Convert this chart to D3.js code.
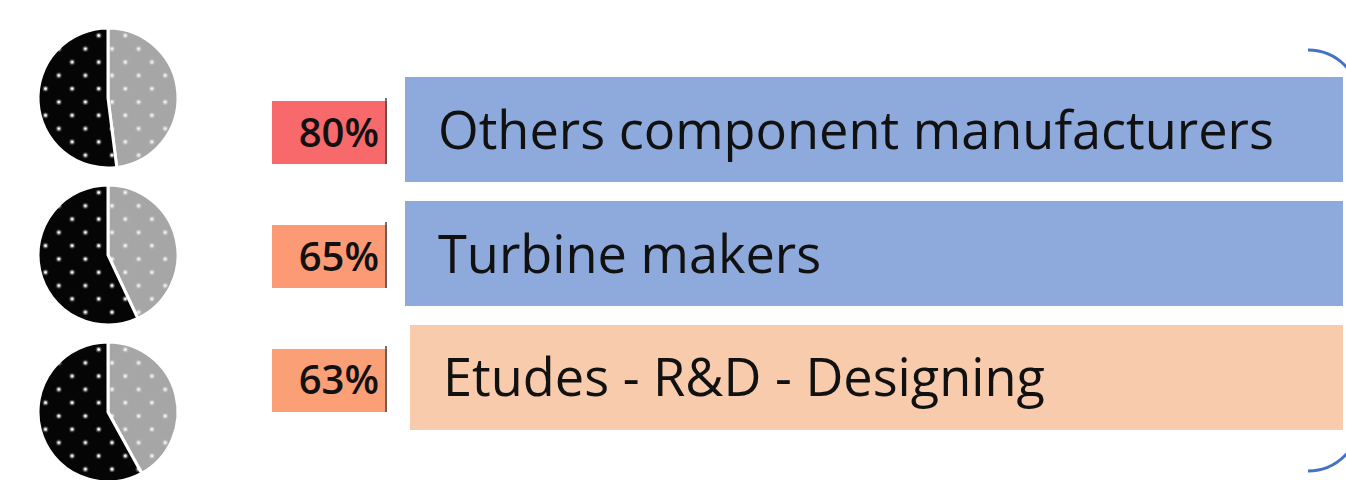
<!DOCTYPE html>
<html>
<head>
<meta charset="utf-8">
<script src="https://cdn.jsdelivr.net/npm/d3@7"></script>
<style>
  html, body { margin: 0; padding: 0; background: #fff; }
  svg { display: block; }
  text { font-family: "Open Sans", sans-serif; }
</style>
</head>
<body>
<div id="chart"></div>
<script>
// rows, top to bottom
const categories = ['Others component manufacturers', 'Turbine makers', 'Etudes - R&D - Designing'];
const shares = [80, 65, 63];
const pieBlack = [52, 57, 58];
const pieGray = [48, 43, 42];
const barColors = ['#8EA9DB', '#8EA9DB', '#F8CBAD'];

const width = 1346;
const height = 480;

const svg = d3.select('#chart')
    .append('svg')
    .attr('width', width)
    .attr('height', height)
    .attr('viewBox', `0 0 ${width} ${height}`);

const defs = svg.append('defs');

// dotted fill like the office pattern fills
function dotPattern(id, bg, dot) {
    const p = defs.append('pattern')
        .attr('id', id)
        .attr('patternUnits', 'userSpaceOnUse')
        .attr('width', 26.6)
        .attr('height', 26.6);
    p.append('rect').attr('width', 26.6).attr('height', 26.6).attr('fill', bg);
    [[4, 4], [17.3, 17.3]].forEach(([cx, cy]) => {
        p.append('circle').attr('cx', cx).attr('cy', cy).attr('r', 2.8)
            .attr('fill', dot).attr('opacity', 0.3);
        p.append('circle').attr('cx', cx).attr('cy', cy).attr('r', 1.5)
            .attr('fill', dot);
    });
}
dotPattern('dotsBlack', '#050505', '#ffffff');
dotPattern('dotsGray', '#A6A6A6', '#f4f4f4');

// bars
const y = d3.scaleBand()
    .domain(categories)
    .range([77, 430])
    .paddingInner(0.153)
    .paddingOuter(0);

const x = d3.scaleLinear().domain([0, 1]).range([405, 1343]);

svg.selectAll('.bar')
    .data(categories)
    .enter()
    .append('rect')
    .attr('class', 'bar')
    .attr('x', (d, i) => x(0) + (i === 2 ? 5 : 0))
    .attr('y', d => y(d))
    .attr('width', (d, i) => x(1) - x(0) - (i === 2 ? 5 : 0))
    .attr('height', y.bandwidth())
    .attr('fill', (d, i) => barColors[i]);

svg.selectAll('.label')
    .data(categories)
    .enter()
    .append('text')
    .attr('class', 'label')
    .attr('x', (d, i) => 438 + (i === 2 ? 5 : 0))
    .attr('y', d => y(d) + y.bandwidth() / 2 + 19)
    .attr('font-size', 52.3)
    .attr('fill', '#111')
    .text(d => d);

// percentage boxes coloured like a conditional colour scale
const heat = d3.scaleLinear().domain([40, 80]).range(['#FFEB84', '#F8696B']);
const boxH = 63;

const box = svg.selectAll('.share')
    .data(categories)
    .enter()
    .append('g')
    .attr('class', 'share')
    .attr('transform', d => `translate(0,${y(d) + y.bandwidth() / 2 + 3 - boxH / 2})`);

box.append('rect')
    .attr('x', 272)
    .attr('width', 115)
    .attr('height', boxH)
    .attr('fill', (d, i) => heat(shares[i]));

box.append('line')
    .attr('x1', 386).attr('x2', 386)
    .attr('y1', -3).attr('y2', boxH)
    .attr('stroke', '#444')
    .attr('stroke-width', 1.5);

box.append('text')
    .attr('x', 379)
    .attr('y', boxH / 2 + 14)
    .attr('text-anchor', 'end')
    .attr('font-size', 40)
    .attr('font-weight', 600)
    .attr('fill', '#111')
    .text((d, i) => `${shares[i]}%`);

// pies
const py = d3.scalePoint().domain(categories).range([98, 412]);
const pie = d3.pie().sort(null);
const arc = d3.arc().innerRadius(0).outerRadius(70);

categories.forEach((c, i) => {
    const g = svg.append('g').attr('transform', `translate(108,${py(c)})`);
    g.selectAll('path')
        .data(pie([pieGray[i], pieBlack[i]]))
        .enter()
        .append('path')
        .attr('d', arc)
        .attr('fill', (d, j) => (j === 0 ? 'url(#dotsGray)' : 'url(#dotsBlack)'))
        .attr('stroke', '#fff')
        .attr('stroke-width', 3);
});

// blue bracket on the right edge
const r = 52;
const br = d3.path();
br.moveTo(1308, 50);
br.arcTo(1308 + r, 50, 1308 + r, 50 + r, r);
br.lineTo(1308 + r, 471 - r);
br.arcTo(1308 + r, 471, 1308, 471, r);
svg.append('path')
    .attr('d', br.toString())
    .attr('fill', 'none')
    .attr('stroke', '#4472C4')
    .attr('stroke-width', 3);
</script>
</body>
</html>
